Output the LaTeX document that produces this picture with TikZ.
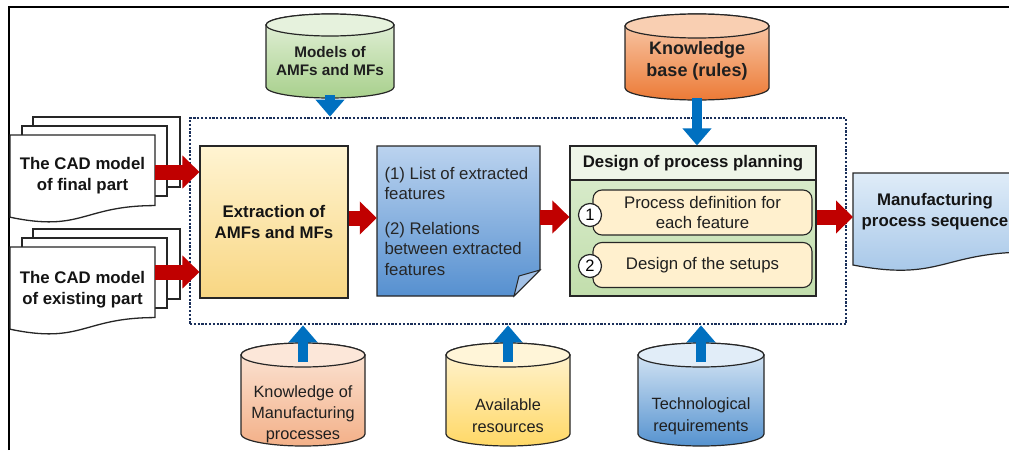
\documentclass[tikz,border=0pt]{standalone}
\usepackage{fontspec}
\setmainfont{Liberation Sans}
\usetikzlibrary{arrows.meta,calc}
\definecolor{redA}{HTML}{C00000}
\definecolor{blueA}{HTML}{0070C0}
\definecolor{navy}{HTML}{1A2F5A}
\definecolor{edge}{HTML}{262626}
\definecolor{extTop}{HTML}{FFF4D2}
\definecolor{extBot}{HTML}{F8D682}
\definecolor{listTop}{HTML}{BBD3EF}
\definecolor{listBot}{HTML}{5690D0}
\definecolor{listFold}{HTML}{A3C1E6}
\definecolor{desTop}{HTML}{DDEED2}
\definecolor{desBot}{HTML}{C2DEAC}
\definecolor{desHead}{HTML}{EEF5E8}
\definecolor{subFill}{HTML}{FFF0CE}
\definecolor{outTop}{HTML}{DFECF8}
\definecolor{outBot}{HTML}{A2C4E7}
\definecolor{mdTop}{HTML}{E6F2DD}
\definecolor{mdBot}{HTML}{A8D08C}
\definecolor{kbTop}{HTML}{F9CFB2}
\definecolor{kbBot}{HTML}{EC7A36}
\definecolor{kmTop}{HTML}{FCE7D9}
\definecolor{kmBot}{HTML}{F3B088}
\definecolor{arTop}{HTML}{FFF5D8}
\definecolor{arBot}{HTML}{FFD866}
\definecolor{trTop}{HTML}{E1EDF8}
\definecolor{trBot}{HTML}{5592CF}
\newcommand\mycyl[7]{%
  \path[draw=edge, line width=1.2pt, top color=#6, bottom color=#7]
    (#1-#2,#3-#5) -- (#1-#2,#4+#5)
    arc[start angle=180, end angle=360, x radius=#2pt, y radius=#5pt]
    -- (#1+#2,#3-#5)
    arc[start angle=0, end angle=180, x radius=#2pt, y radius=#5pt] -- cycle;
  \path[draw=edge, line width=1.2pt, fill=#6] (#1,#3-#5) ellipse[x radius=#2pt, y radius=#5pt];
}
\newcommand\mydoc[4]{% x, ytop (neg), w, h
  \path[draw=edge, line width=1.3pt, fill=white]
    (#1,#2) -- (#1+#3,#2) -- (#1+#3,#2-0.802*#4)
    .. controls (#1+0.5*#3,#2-0.802*#4) and (#1+0.5*#3,#2-1.107*#4) ..
    (#1,#2-0.934*#4) -- cycle;
}
\begin{document}
\begin{tikzpicture}[x=1pt,y=1pt,
  txt/.style={font=\fontsize{16.8}{20.5}\selectfont, align=center, text=black!88},
  btxt/.style={font=\fontsize{16.8}{21}\selectfont\bfseries, align=center, text=black!92},
  redarrow/.style={draw=redA, line width=15pt, -{Triangle[width=32pt,length=17pt]}},
  bluearrow/.style={draw=blueA, line width=10pt, -{Triangle[width=28pt,length=17pt]}},
  pageback/.style={draw=edge, line width=1.3pt, fill=white},
  framebox/.style={draw=navy, line width=2.7pt, dash pattern=on 2.2pt off 1.6pt,
    minimum width=656pt, minimum height=206pt, inner sep=0pt},
  subbox/.style={draw=edge, line width=1.1pt, fill=subFill, rounded corners=9pt,
    minimum width=219pt, minimum height=45pt, inner sep=0pt, txt},
  numcirc/.style={circle, draw=edge, line width=1.2pt, fill=white, minimum size=23pt,
    inner sep=0pt, font=\fontsize{16.5}{18}\selectfont},
  shape node/.style={inner sep=0pt}]
\path[use as bounding box, clip] (0,0) rectangle (1009,-450);
\fill[white] (0,0) rectangle (1009,-450);
% outer border
\draw[line width=2pt] (8.5,-450) -- (8.5,-6.5) -- (1009,-6.5);
% dotted frame
\node[framebox] (frame) at (518,-221) {};
% cylinders
\mycyl{330}{64}{-14}{-98}{11}{mdTop}{mdBot}
\node[font=\fontsize{15.3}{18}\selectfont\bfseries, align=center, text=black!88] (models) at (330,-61) {Models of\\AMFs and MFs};
\mycyl{697}{72}{-14}{-100}{12}{kbTop}{kbBot}
\node[font=\fontsize{18}{22}\selectfont\bfseries, align=center, text=black!88] (kb) at (697,-61) {Knowledge\\base (rules)};
\mycyl{303}{62}{-343}{-446}{12}{kmTop}{kmBot}
\node[txt, font=\fontsize{16.3}{21}\selectfont] (km) at (303,-414) {Knowledge of\\Manufacturing\\processes};
\mycyl{508}{62}{-343}{-446}{12}{arTop}{arBot}
\node[txt, font=\fontsize{16.3}{22}\selectfont] (ar) at (508,-416) {Available\\resources};
\mycyl{701}{63}{-343}{-446}{12}{trTop}{trBot}
\node[txt, font=\fontsize{16.3}{22}\selectfont] (tr) at (701,-416) {Technological\\requirements};
% CAD documents
\path[pageback] (33,-117) rectangle (180,-187);
\path[pageback] (22,-126) rectangle (167,-196);
\mydoc{10}{-135}{145}{88}
\node[btxt, minimum width=145pt, minimum height=60pt, shape node] (doc1) at (82.5,-176) {The CAD model\\of final part};
\path[pageback] (33,-229) rectangle (180,-299);
\path[pageback] (22,-238) rectangle (167,-308);
\mydoc{10}{-247}{145}{88}
\node[btxt, minimum width=145pt, minimum height=60pt, shape node] (doc2) at (82.5,-290) {The CAD model\\of existing part};
% extraction box
\node[draw=edge, line width=1.1pt, top color=extTop, bottom color=extBot,
  minimum width=148pt, minimum height=152pt, btxt] (extract) at (274,-222) {Extraction of\\AMFs and MFs};
% list document with folded corner
\path[draw=edge, line width=1.1pt, top color=listTop, bottom color=listBot]
  (377,-146) -- (540,-146) -- (540,-270) -- (514,-296) -- (377,-296) -- cycle;
\path[draw=edge, line width=1pt, fill=listFold] (540,-270) -- (514,-296) -- (519,-276) -- cycle;
\node[minimum width=163pt, minimum height=150pt, inner sep=0pt] (list) at (458.5,-221)
  {\begin{minipage}{148pt}\fontsize{16.8}{20.5}\selectfont\color{black!85}\raggedright
   (1) List of extracted\\features\\[14pt](2) Relations\\between extracted\\features\end{minipage}};
% design of process planning
\node[draw=edge, line width=1.2pt, top color=desTop, bottom color=desBot,
  minimum width=246pt, minimum height=150pt, inner sep=0pt] (design) at (693,-221) {};
\node[draw=edge, line width=1.2pt, fill=desHead, minimum width=246pt, minimum height=34pt,
  inner sep=0pt, anchor=north, btxt] (header) at (design.north) {Design of process planning};
\node[subbox] (sub1) at (702.5,-212.5) {Process definition for\\each feature};
\node[subbox] (sub2) at (702.5,-265) {Design of the setups};
\node[numcirc] (n1) at (590,-215) {1};
\node[numcirc] (n2) at (590,-266) {2};
% output document
\path[draw=edge, line width=1.2pt, top color=outTop, bottom color=outBot]
  (853,-173) -- (1030,-173) -- (1030,-252)
  .. controls (941.5,-252) and (941.5,-282) .. (853,-265) -- cycle;
\node[btxt] (output) at (935,-212) {Manufacturing\\process sequence};
\coordinate (outw) at (853,-217);
% arrow start points
\coordinate (d1a) at ([yshift=4pt]doc1.east);
\coordinate (d2a) at ([yshift=18pt]doc2.east);
\coordinate (exa) at ([yshift=4pt]extract.east);
\coordinate (lia) at ([yshift=4pt]list.east);
\coordinate (dea) at ([yshift=4pt]design.east);
% red arrows
\draw[redarrow] (d1a) -- (extract.west |- d1a);
\draw[redarrow] (d2a) -- (extract.west |- d2a);
\draw[redarrow] (exa) -- (list.west |- exa);
\draw[redarrow] (lia) -- (design.west |- lia);
\draw[redarrow] (dea) -- (outw);
% blue arrows
\draw[bluearrow] (models.south |- 0,-95) -- (models.south |- frame.north);
\draw[bluearrow] (kb.south |- 0,-98) -- (kb.south |- design.north);
\draw[bluearrow] (km.north |- 0,-362) -- (km.north |- frame.south);
\draw[bluearrow] (ar.north |- 0,-362) -- (ar.north |- frame.south);
\draw[bluearrow] (tr.north |- 0,-362) -- (tr.north |- frame.south);
\end{tikzpicture}
\end{document}
